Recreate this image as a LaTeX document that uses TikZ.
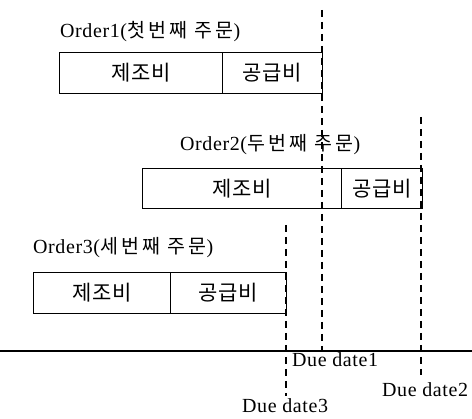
\documentclass[tikz,border=0pt]{standalone}
\usepackage{fontspec}
\setmainfont{Liberation Serif}[LetterSpace=3]
\newfontfamily\krbox{Noto Sans CJK KR}[LetterSpace=3]
\newfontfamily\krlab{Noto Sans CJK KR}[LetterSpace=16]
\newcommand{\krl}[1]{{\krlab\fontsize{19.5pt}{21pt}\selectfont #1}}
\begin{document}
\begin{tikzpicture}[x=1pt,y=-1pt,
  cell/.style={draw, line width=0.9pt, rectangle, inner sep=0pt, anchor=north west,
    font=\krbox\fontsize{21pt}{23pt}\selectfont},
  lab/.style={anchor=west, inner sep=0pt, font=\fontsize{20pt}{22pt}\selectfont},
  due/.style={dash pattern=on 7pt off 5pt, line width=1.8pt},
  axisline/.style={line width=2.6pt}]
\useasboundingbox (0,0) rectangle (472,419);
% order labels
\node[lab] (l1) at (60,32) {Order1(\krl{첫번째 주문})};
\node[lab] (l2) at (180,145) {Order2(\krl{두번째 주문})};
\node[lab] (l3) at (33,248) {Order3(\krl{세번째 주문})};
% boxes
\node[cell, minimum width=163pt, minimum height=41pt] (o1a) at (59,52) {제조비};
\node[cell, minimum width=100pt, minimum height=41pt] (o1b) at (222,52) {공급비};
\node[cell, minimum width=199pt, minimum height=40pt] (o2a) at (142,168) {제조비};
\node[cell, minimum width=81pt, minimum height=40pt] (o2b) at (341,168) {공급비};
\node[cell, minimum width=137pt, minimum height=41pt] (o3a) at (33,272) {제조비};
\node[cell, minimum width=116pt, minimum height=41pt] (o3b) at (170,272) {공급비};
% axis
\coordinate (ax0) at (0,351);
\coordinate (ax1) at (472,351);
\draw[axisline] (ax0) -- (ax1);
% due date lines
\coordinate (d1t) at (322,10);
\coordinate (d1b) at (322,351);
\coordinate (d2t) at (421,117);
\coordinate (d2b) at (421,375);
\coordinate (d3t) at (286,225);
\coordinate (d3b) at (286,396);
\draw[due] (d1t) -- (d1b);
\draw[due] (d2t) -- (d2b);
\draw[due] (d3t) -- (d3b);
% due date labels
\node[lab] (dl1) at (292,360) {Due date1};
\node[lab] (dl2) at (382,390) {Due date2};
\node[lab] (dl3) at (242,406) {Due date3};
\end{tikzpicture}
\end{document}
